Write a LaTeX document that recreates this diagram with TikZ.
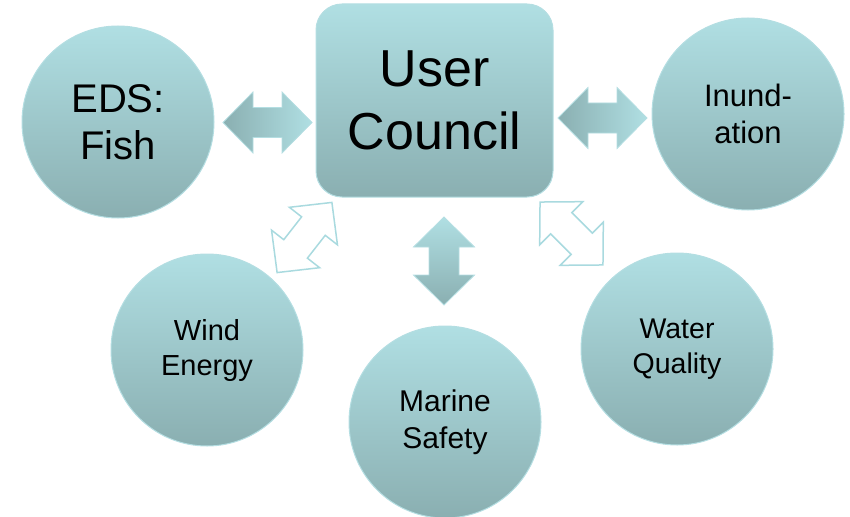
\documentclass[tikz,border=0pt]{standalone}
\usepackage{fontspec}
\setmainfont{Liberation Sans}
\usetikzlibrary{calc}
\definecolor{tealtop}{HTML}{B0DFE3}
\definecolor{tealbot}{HTML}{8AAFB1}
\definecolor{tealrim}{HTML}{B4DEE2}
\definecolor{teallink}{HTML}{A9DADF}
\tikzstyle{topic} = [circle, minimum size=192pt, inner sep=0pt, draw=tealrim, line width=1pt, top color=tealtop, bottom color=tealbot, align=center]
\tikzstyle{hub} = [rectangle, rounded corners=26pt, minimum width=237pt, minimum height=193pt, draw=tealrim, line width=1pt, top color=tealtop, bottom color=tealbot, align=center]
\tikzstyle{solidarrow} = [draw=tealrim, line width=0.8pt]
\tikzstyle{hollowarrow} = [draw=teallink, line width=1.5pt, fill=white]
\tikzset{
  pics/harrow/.style={code={\path[#1] (-44.5,0) -- (-14.5,30.5) -- (-14.5,15) -- (14.5,15) -- (14.5,30.5) -- (44.5,0) -- (14.5,-30.5) -- (14.5,-15) -- (-14.5,-15) -- (-14.5,-30.5) -- cycle;}},
  pics/varrow/.style={code={\path[#1] (0,-44) -- (30.5,-14) -- (15,-14) -- (15,14) -- (30.5,14) -- (0,44) -- (-30.5,14) -- (-15,14) -- (-15,-14) -- (-30.5,-14) -- cycle;}}
}

\begin{document}
\begin{tikzpicture}[x=1pt, y=-1pt]
    \useasboundingbox (0,0) rectangle (850,516);

    % centre and the five topics
    \node[hub, font=\fontsize{52}{63}\selectfont] (council) at (434.5,100.5) {User\\Council};
    \node[topic, font=\fontsize{40}{47}\selectfont] (fish) at (118,122) {EDS:\\Fish};
    \node[topic, font=\fontsize{31}{37}\selectfont] (inund) at (748,114) {Inund-\\ation};
    \node[topic, font=\fontsize{29}{35}\selectfont] (wind) at (207,350) {Wind\\Energy};
    \node[topic, font=\fontsize{30}{37}\selectfont] (safety) at (445,422) {Marine\\Safety};
    \node[topic, font=\fontsize{28.5}{35}\selectfont] (water) at (677,349) {Water\\Quality};

    % block arrows
    \pic at (267.5,122.5) {harrow={solidarrow, left color=tealbot, right color=tealtop}};
    \pic at (602.5,118) {harrow={solidarrow, left color=tealbot, right color=tealtop}};
    \pic at (444,261) {varrow={solidarrow, top color=tealtop, bottom color=tealbot}};
    \pic[rotate=52] at (304.5,237.5) {harrow=hollowarrow};
    \pic[rotate=-45] at (571.5,233.5) {harrow=hollowarrow};

\end{tikzpicture}
\end{document}
